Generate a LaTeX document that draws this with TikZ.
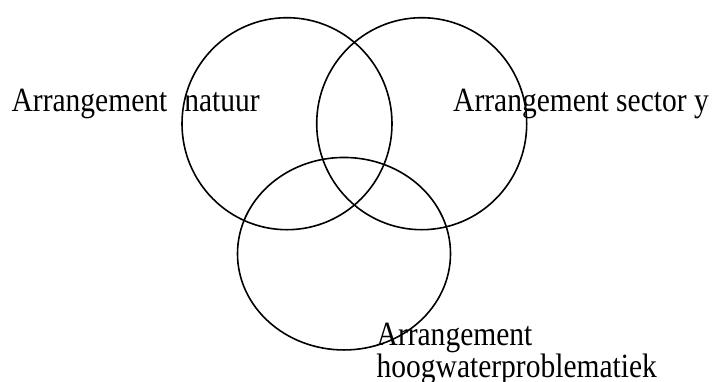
\documentclass[tikz,border=0pt]{standalone}
\usepackage{fontspec}
\setmainfont{Liberation Serif}
\usetikzlibrary{shapes.geometric}
\tikzset{
  setring/.style={draw=black, line width=1.6pt, ellipse, inner sep=0pt},
  lbl/.style={anchor=base west, inner sep=0pt, font=\fontsize{29.5}{32}\selectfont},
}
\newcommand{\tallt}[1]{\scalebox{1}[1.15]{#1}}
\begin{document}
\begin{tikzpicture}[x=1pt,y=-1pt]
\useasboundingbox (0,0) rectangle (722,381);
\node[setring, minimum width=210pt, minimum height=212pt] (natuur) at (287,123.7) {};
\node[setring, minimum width=210pt, minimum height=212pt] (sector) at (421.7,123.7) {};
\node[setring, minimum width=213pt, minimum height=192.5pt] (hoog) at (344,253.7) {};
\node[lbl] (tnat) at (11.5,111) {\tallt{Arrangement\hspace{17pt}natuur}};
\node[lbl] (tsec) at (453,111) {\tallt{Arrangement sector y}};
\node[lbl] (thoog1) at (376.5,345) {\tallt{Arrangement}};
\node[lbl] (thoog2) at (376.5,377) {\tallt{hoogwaterproblematiek}};
\end{tikzpicture}
\end{document}
